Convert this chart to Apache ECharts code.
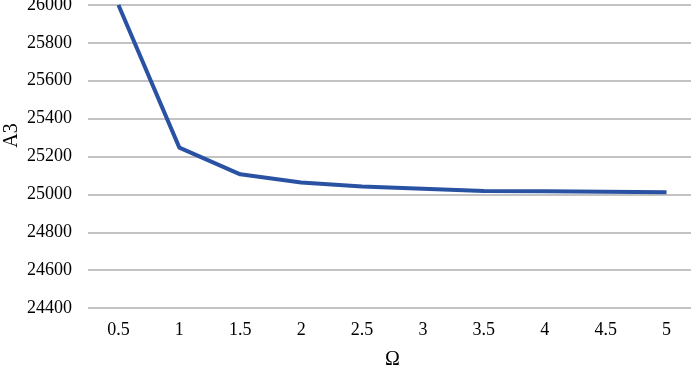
<!DOCTYPE html>
<html>
<head>
<meta charset="utf-8">
<script src="https://cdn.jsdelivr.net/npm/echarts@6/dist/echarts.min.js"></script>
<style>html,body{margin:0;padding:0;background:#fff;}#c{width:691px;height:365px;}</style>
</head>
<body>
<div id="c"></div>
<script>
const categories = ['0.5','1','1.5','2','2.5','3','3.5','4','4.5','5'];
const a3Values = [26000, 25247, 25106, 25063, 25042, 25030, 25018, 25017, 25014, 25011];
const yMin = 24400, yMax = 26000, yStep = 200;

const chart = echarts.init(document.getElementById('c'));
const font = '"Liberation Serif", "Times New Roman", serif';
chart.setOption({
  animation: false,
  backgroundColor: '#ffffff',
  grid: { left: 88, right: -6, top: 5, bottom: 57, containLabel: false, outerBoundsMode: 'none' },
  xAxis: {
    type: 'category',
    data: categories,
    boundaryGap: true,
    name: 'Ω',
    nameLocation: 'middle',
    nameGap: 42,
    nameMoveOverlap: false,
    nameTextStyle: { fontFamily: font, fontSize: 20, color: '#000' },
    axisLine: { show: false },
    axisTick: { show: false },
    axisLabel: { fontFamily: font, fontSize: 18, color: '#000', margin: 13 },
    splitLine: { show: false }
  },
  yAxis: {
    type: 'value',
    min: yMin, max: yMax, interval: yStep,
    name: 'A3',
    nameLocation: 'middle',
    nameGap: 66,
    nameMoveOverlap: false,
    nameTextStyle: { fontFamily: font, fontSize: 20, color: '#000', padding: [0, 0, 0, 42] },
    axisLine: { show: false },
    axisTick: { show: false },
    axisLabel: { fontFamily: font, fontSize: 18, color: '#000', margin: 16, formatter: v => String(v) },
    splitLine: { lineStyle: { color: '#c3c3c3', width: 2 } }
  },
  series: [{
    type: 'line',
    data: a3Values,
    symbol: 'none',
    lineStyle: { color: '#2a52a3', width: 4 },
    itemStyle: { color: '#2a52a3' }
  }]
});
</script>
</body>
</html>
